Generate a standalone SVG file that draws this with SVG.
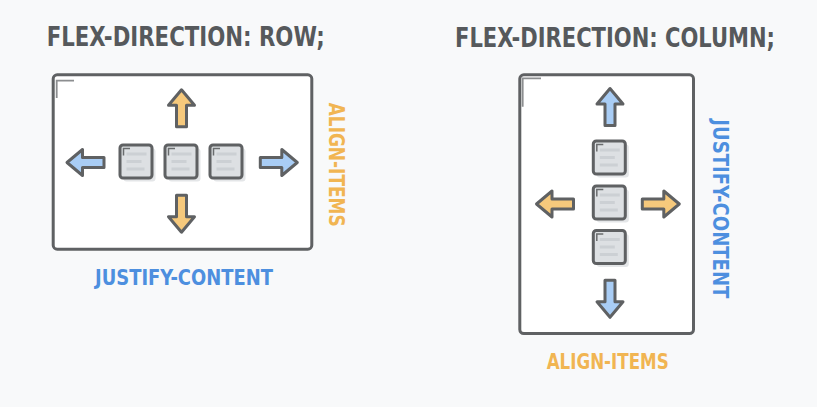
<svg xmlns="http://www.w3.org/2000/svg" xmlns:xlink="http://www.w3.org/1999/xlink" width="817" height="407" viewBox="0 0 817 407">
<style>
.title{font-family:"DejaVu Sans Condensed","DejaVu Sans",sans-serif;font-weight:bold;font-size:26.5px;fill:#56595c}
.lbl{font-family:"DejaVu Sans Condensed","DejaVu Sans",sans-serif;font-weight:bold;font-size:20.5px}
.blue{fill:#4d8fdf}
.orange{fill:#f1b552}
.box{fill:#ffffff;stroke:#5f6163;stroke-width:3}
.mark{fill:none;stroke:#8c8e90;stroke-width:1.8}
.arrow{stroke:#5f6163;stroke-width:3;stroke-linejoin:round}
.ab{fill:#a9cdf5}
.ao{fill:#f6c97c}
</style>
<defs>
<path id="arr" d="M0,-18.5 L13,-3 L5,-3 L5,18.5 L-5,18.5 L-5,-3 L-13,-3 Z"/>
<g id="sq">
<rect x="-12.5" y="-13" width="32" height="33" rx="3" fill="#e4e6e8"/>
<rect x="-16" y="-16.5" width="32" height="33" rx="3" fill="#dde0e3" stroke="#5f6163" stroke-width="3"/>
<path d="M-12.5,-6 L-12.5,-13 L-6,-13" fill="none" stroke="#6a6c6e" stroke-width="1.5"/>
<rect x="-9.5" y="-9" width="20" height="3" fill="#ccd0d4"/>
<rect x="-9.5" y="-1.5" width="15" height="3" fill="#ccd0d4"/>
<rect x="-9.5" y="6" width="18" height="3" fill="#ccd0d4"/>
</g>
</defs>
<rect width="817" height="407" fill="#f8f9fa"/>

<g id="row">
<text class="title" x="46.7" y="45.5" textLength="278" lengthAdjust="spacingAndGlyphs">FLEX-DIRECTION: ROW;</text>
<rect class="box" x="53.2" y="74.8" width="258.6" height="174.4" rx="4"/>
<path class="mark" d="M56.7,98 L56.7,80.7 L74,80.7"/>
<g id="row-items">
<use xlink:href="#sq" href="#sq" transform="translate(136,161.5)"/>
<use xlink:href="#sq" href="#sq" transform="translate(181,161.5)"/>
<use xlink:href="#sq" href="#sq" transform="translate(226,161.5)"/>
</g>
<text class="lbl blue" x="95" y="284.5" textLength="178" lengthAdjust="spacingAndGlyphs">JUSTIFY-CONTENT</text>
<text class="lbl orange" transform="translate(328.5,102.7) rotate(90)" textLength="124" lengthAdjust="spacingAndGlyphs">ALIGN-ITEMS</text>
</g>

<g id="column">
<text class="title" x="455" y="46.5" textLength="320" lengthAdjust="spacingAndGlyphs">FLEX-DIRECTION: COLUMN;</text>
<rect class="box" x="519.8" y="74.8" width="173.7" height="258.7" rx="4"/>
<path class="mark" d="M522.7,106.7 L522.7,78.3 L541,78.3"/>
<g id="col-items">
<use xlink:href="#sq" href="#sq" transform="translate(609.3,157.5)"/>
<use xlink:href="#sq" href="#sq" transform="translate(609.3,202.5)"/>
<use xlink:href="#sq" href="#sq" transform="translate(609.3,247)"/>
</g>
<text class="lbl orange" x="546.7" y="368.5" textLength="122" lengthAdjust="spacingAndGlyphs">ALIGN-ITEMS</text>
<text class="lbl blue" transform="translate(712.5,119.3) rotate(90)" textLength="179" lengthAdjust="spacingAndGlyphs">JUSTIFY-CONTENT</text>
</g>

<g id="connectors">
<use xlink:href="#arr" href="#arr" class="arrow ao" transform="translate(181.5,108.3)"/>
<use xlink:href="#arr" href="#arr" class="arrow ao" transform="translate(181.5,213.7) rotate(180)"/>
<use xlink:href="#arr" href="#arr" class="arrow ab" transform="translate(85.5,162.5) rotate(-90)"/>
<use xlink:href="#arr" href="#arr" class="arrow ab" transform="translate(278.8,162.5) rotate(90)"/>
<use xlink:href="#arr" href="#arr" class="arrow ab" transform="translate(610,107) "/>
<use xlink:href="#arr" href="#arr" class="arrow ab" transform="translate(610,298.8) rotate(180)"/>
<use xlink:href="#arr" href="#arr" class="arrow ao" transform="translate(555,204) rotate(-90)"/>
<use xlink:href="#arr" href="#arr" class="arrow ao" transform="translate(660.8,204) rotate(90)"/>
</g>
</svg>
